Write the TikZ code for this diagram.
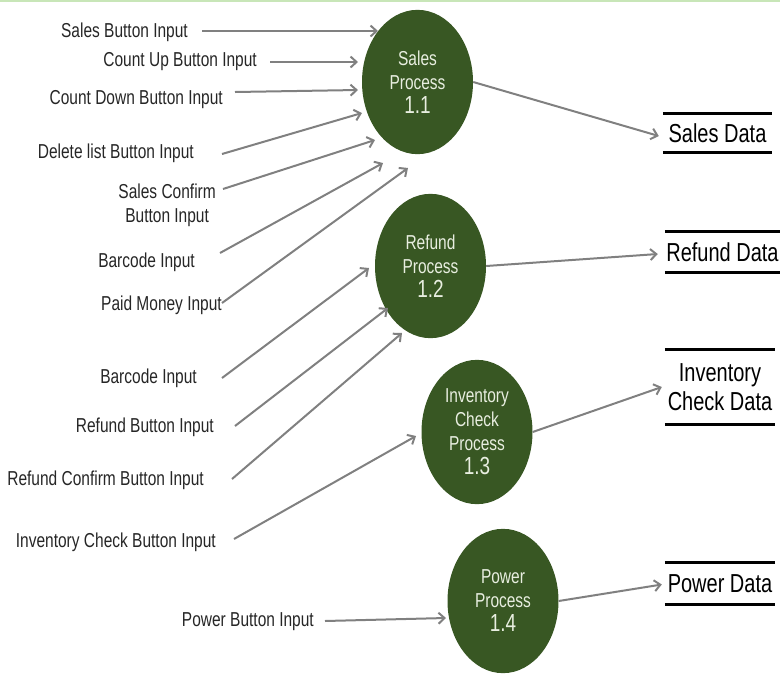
\documentclass[tikz,border=0pt]{standalone}
\usepackage{fontspec}
\setmainfont{Liberation Sans}
\usepackage{tikz}
\usetikzlibrary{arrows.meta}
\usetikzlibrary{shapes.geometric}

\definecolor{procgreen}{RGB}{56,87,35}
\definecolor{flowgray}{RGB}{128,128,128}
\definecolor{proctext}{RGB}{232,238,224}
\definecolor{topline}{RGB}{200,230,184}

\begin{document}
\begin{tikzpicture}[x=1pt, y=-1pt,
        flow/.style={color=flowgray, line width=2pt, -{Straight Barb[length=6pt,width=11pt]}},
        inlabel/.style={anchor=east, inner sep=0, yscale=1.3, transform shape, text=black!85, font=\fontsize{15.5}{18.5}\selectfont},
        process/.style={circle, fill=procgreen, minimum size=111pt, inner sep=0, yscale=1.3, transform shape, text=proctext, align=center, font=\fontsize{15.5}{18.5}\selectfont},
        store/.style={inner sep=0, yscale=1.3, transform shape, align=center, text=black, font=\fontsize{20}{22.5}\selectfont},
        storeline/.style={black, line width=3pt}]
        \useasboundingbox (0,0) rectangle (780,673);
        \draw[topline, line width=2pt] (0,1) -- (780,1);

        % processes
        \node[process] (sales) at (417.5,82) {Sales\\Process\\{\fontsize{19}{19}\selectfont 1.1}};
        \node[process] (refund) at (430.5,266) {Refund\\Process\\{\fontsize{19}{19}\selectfont 1.2}};
        \node[process] (inventory) at (477,432) {Inventory\\Check\\Process\\{\fontsize{19}{19}\selectfont 1.3}};
        \node[process] (power) at (503,601) {Power\\Process\\{\fontsize{19}{19}\selectfont 1.4}};

        % data stores
        \node[store, minimum width=109, minimum height=30] (salesdata) at (717.5,133) {Sales Data};
        \node[store, minimum width=115, minimum height=31] (refunddata) at (722.5,252) {Refund Data};
        \node[store, minimum width=110, minimum height=57.5] (invdata) at (720,387) {Inventory\\Check Data};
        \node[store, minimum width=110, minimum height=32] (powerdata) at (720,583.5) {Power Data};
        \draw[storeline] (salesdata.north west) -- (salesdata.north east) (salesdata.south west) -- (salesdata.south east);
        \draw[storeline] (refunddata.north west) -- (refunddata.north east) (refunddata.south west) -- (refunddata.south east);
        \draw[storeline] (invdata.north west) -- (invdata.north east) (invdata.south west) -- (invdata.south east);
        \draw[storeline] (powerdata.north west) -- (powerdata.north east) (powerdata.south west) -- (powerdata.south east);

        % inputs
        \node[inlabel] (salesbtn) at (188,32) {Sales Button Input};
        \node[inlabel] (countup) at (257,62) {Count Up Button Input};
        \node[inlabel] (countdown) at (223,100) {Count Down Button Input};
        \node[inlabel] (deletelist) at (194,153) {Delete list Button Input};
        \node[inlabel, align=center] (salesconfirm) at (216,205) {Sales Confirm\\Button Input};
        \node[inlabel] (barcodeA) at (195,262) {Barcode Input};
        \node[inlabel] (paidmoney) at (222,305) {Paid Money Input};
        \node[inlabel] (barcodeB) at (197,378) {Barcode Input};
        \node[inlabel] (refundbtn) at (214,427) {Refund Button Input};
        \node[inlabel] (refundconfirm) at (204,480) {Refund Confirm Button Input};
        \node[inlabel] (invbtn) at (216,542) {Inventory Check Button Input};
        \node[inlabel] (powerbtn) at (314,622) {Power Button Input};

        % arrow ends
        \coordinate (salesin1) at (378,31);
        \coordinate (salesin2) at (358,62);
        \coordinate (salesin3) at (358,90);
        \coordinate (salesin4) at (362,113);
        \coordinate (salesin5) at (375,140);
        \coordinate (salesin6) at (383,163);
        \coordinate (salesin7) at (408,168);
        \coordinate (refundin1) at (369,268);
        \coordinate (refundin2) at (388,308);
        \coordinate (refundin3) at (402,333);
        \coordinate (invin) at (416,436);
        \coordinate (powerin) at (446,618);

        \draw[flow] ([shift={(14,-1)}]salesbtn.east) -- (salesin1);
        \draw[flow] ([shift={(13,0)}]countup.east) -- (salesin2);
        \draw[flow] ([shift={(12,-8)}]countdown.east) -- (salesin3);
        \draw[flow] ([shift={(28,1)}]deletelist.east) -- (salesin4);
        \draw[flow] ([shift={(7,-16)}]salesconfirm.east) -- (salesin5);
        \draw[flow] ([shift={(25,-9)}]barcodeA.east) -- (salesin6);
        \draw[flow] ([shift={(0,-2)}]paidmoney.east) -- (salesin7);
        \draw[flow] ([shift={(25,0)}]barcodeB.east) -- (refundin1);
        \draw[flow] ([shift={(21,-1)}]refundbtn.east) -- (refundin2);
        \draw[flow] ([shift={(28,-1)}]refundconfirm.east) -- (refundin3);
        \draw[flow] ([shift={(18,-3)}]invbtn.east) -- (invin);
        \draw[flow] ([shift={(11,-1)}]powerbtn.east) -- (powerin);

        % outputs
        \draw[flow] (sales.east) -- ([shift={(-4,3)}]salesdata.west);
        \draw[flow] (refund.east) -- ([shift={(-7,2)}]refunddata.west);
        \draw[flow] (inventory.east) -- ([shift={(-3,0)}]invdata.west);
        \draw[flow] (power.east) -- ([shift={(-3,1)}]powerdata.west);
\end{tikzpicture}
\end{document}
